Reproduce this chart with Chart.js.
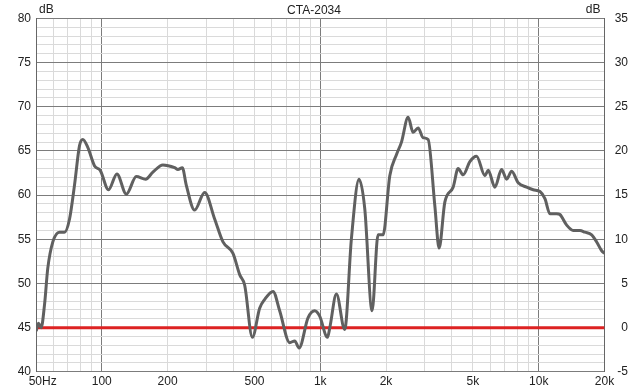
<!DOCTYPE html>
<html>
<head>
<meta charset="utf-8">
<script src="https://cdn.jsdelivr.net/npm/chart.js@4/dist/chart.umd.min.js"></script>
<style>
  html, body { margin: 0; padding: 0; background: #fff; }
  #wrap { width: 633px; height: 389px; }
</style>
</head>
<body>
<div id="wrap"><canvas id="spl"></canvas></div>
<script>
// response curve (Hz, dB)
const freqs = [50.1, 51.3, 52.8, 54.7, 56.6, 59.7, 64.0, 67.5, 71.2, 75.0, 79.1, 81.9, 86.3, 92.7, 98.4,
  107.4, 117.3, 129.5, 143.9, 158.7, 171.4, 190.5, 215.5, 223.1, 233.7, 243.8, 266.1, 295.7, 328.6,
  358.7, 398.6, 427.8, 451, 489, 528, 557, 608, 652, 725, 764, 800, 879, 943, 994, 1079, 1106, 1186,
  1294, 1389, 1505, 1598, 1727, 1839, 1939, 2081, 2234, 2354, 2525, 2661, 2805, 2957, 3117, 3345,
  3500, 3717, 4058, 4277, 4509, 4840, 5195, 5670, 5870, 6300, 6760, 7130, 7515, 8055, 8805, 9435,
  10130, 10675, 11250, 12075, 12505, 13425, 14385, 15440, 16275, 17470, 18415, 19415, 20000];
const levels = [44.6, 45.5, 45.0, 47.6, 51.7, 54.7, 55.8, 55.8, 57.3, 61.1, 65.6, 66.3, 65.4, 63.3, 62.8,
  60.6, 62.4, 60.1, 62.1, 61.8, 62.6, 63.4, 63.1, 62.9, 63.1, 61.1, 58.3, 60.3, 57.3,
  54.7, 53.4, 51.0, 49.8, 43.9, 47.2, 48.2, 49.1, 46.9, 43.3, 43.5, 42.7, 46.1, 46.9, 46.3, 43.9, 45.0, 48.8,
  44.8, 55.1, 61.8, 58.5, 46.9, 55.5, 55.5, 62.2, 64.6, 66.0, 68.8, 67.1, 67.6, 66.5, 66.3, 58.8,
  54.0, 59.2, 60.9, 63.0, 62.3, 63.8, 64.4, 62.2, 62.8, 60.9, 62.9, 61.8, 62.7, 61.4, 60.9, 60.6,
  60.4, 59.6, 57.9, 57.9, 57.8, 56.6, 56.0, 56.0, 55.8, 55.5, 54.7, 53.7, 53.4];

// reference level
const refFreqs = [50, 20000];
const refLevels = [45, 45];

// gridline positions on the frequency axis and which ones get a label
const freqGrid = [50, 60, 70, 80, 90, 100, 200, 300, 400, 500, 600, 700, 800, 900,
  1000, 2000, 3000, 4000, 5000, 6000, 7000, 8000, 9000, 10000, 20000];
const freqLabels = { 50: '    50Hz', 100: '100', 200: '200', 500: '500', 1000: '1k',
  2000: '2k', 5000: '5k', 10000: '10k', 20000: '20k' };
const decades = [100, 1000, 10000];

const titleText = 'CTA-2034';
const unitText = 'dB';

const FONT = { family: '"Liberation Sans", Arial, sans-serif', size: 12 };
const MAJOR = '#7c7c7c';
const MINOR = '#dadada';
const FRAME = '#666666';

// little dB captions inside the top corners
const unitLabels = {
  id: 'unitLabels',
  afterDraw(chart) {
    const { ctx, chartArea } = chart;
    ctx.save();
    ctx.font = '12px ' + FONT.family;
    ctx.fillStyle = '#222';
    ctx.textBaseline = 'middle';
    ctx.textAlign = 'left';
    ctx.fillText(unitText, chartArea.left + 3, 10);
    ctx.textAlign = 'right';
    ctx.fillText(unitText, chartArea.right - 4, 10);
    ctx.restore();
  }
};

new Chart(document.getElementById('spl'), {
  type: 'line',
  data: {
    datasets: [
      {
        label: 'ref',
        data: refFreqs.map((f, i) => ({ x: f, y: refLevels[i] })),
        borderColor: '#dd2222',
        borderWidth: 3,
        pointRadius: 0,
        order: 2
      },
      {
        label: 'response',
        data: freqs.map((f, i) => ({ x: f, y: levels[i] })),
        borderColor: '#606060',
        borderWidth: 3,
        pointRadius: 0,
        cubicInterpolationMode: 'monotone',
        order: 1
      }
    ]
  },
  options: {
    responsive: true,
    maintainAspectRatio: false,
    animation: false,
    layout: { padding: { left: 0, right: 5, top: 0, bottom: 0 } },
    plugins: {
      legend: { display: false },
      tooltip: { enabled: false },
      title: {
        display: true,
        text: titleText,
        color: '#222',
        font: { ...FONT, weight: 'normal' },
        padding: { top: 3, bottom: 1 }
      }
    },
    scales: {
      x: {
        type: 'logarithmic',
        min: 50,
        max: 20000,
        afterBuildTicks: (scale) => { scale.ticks = freqGrid.map(v => ({ value: v })); },
        afterFit: (scale) => { scale.height = 15; },
        ticks: {
          autoSkip: false,
          maxRotation: 0,
          padding: 3,
          color: '#222',
          font: FONT,
          callback: (v) => freqLabels[v] || ''
        },
        grid: {
          drawTicks: false,
          color: (c) => decades.includes(c.tick.value) ? MAJOR : MINOR
        },
        border: { display: false }
      },
      y: {
        position: 'left',
        min: 40,
        max: 80,
        afterFit: (scale) => { scale.width = 36; },
        ticks: {
          stepSize: 1,
          autoSkip: false,
          padding: 5,
          color: '#222',
          font: FONT,
          callback: (v) => v % 5 === 0 ? v : ''
        },
        grid: {
          drawTicks: false,
          color: (c) => c.tick.value % 5 === 0 ? MAJOR : MINOR
        },
        border: { color: FRAME }
      },
      y2: {
        position: 'right',
        min: -5,
        max: 35,
        afterFit: (scale) => { scale.width = 23.5; },
        ticks: {
          stepSize: 5,
          autoSkip: false,
          padding: 10,
          crossAlign: 'far',
          color: '#222',
          font: FONT
        },
        grid: { display: false, drawTicks: false },
        border: { color: FRAME }
      }
    }
  },
  plugins: [unitLabels]
});
</script>
</body>
</html>
